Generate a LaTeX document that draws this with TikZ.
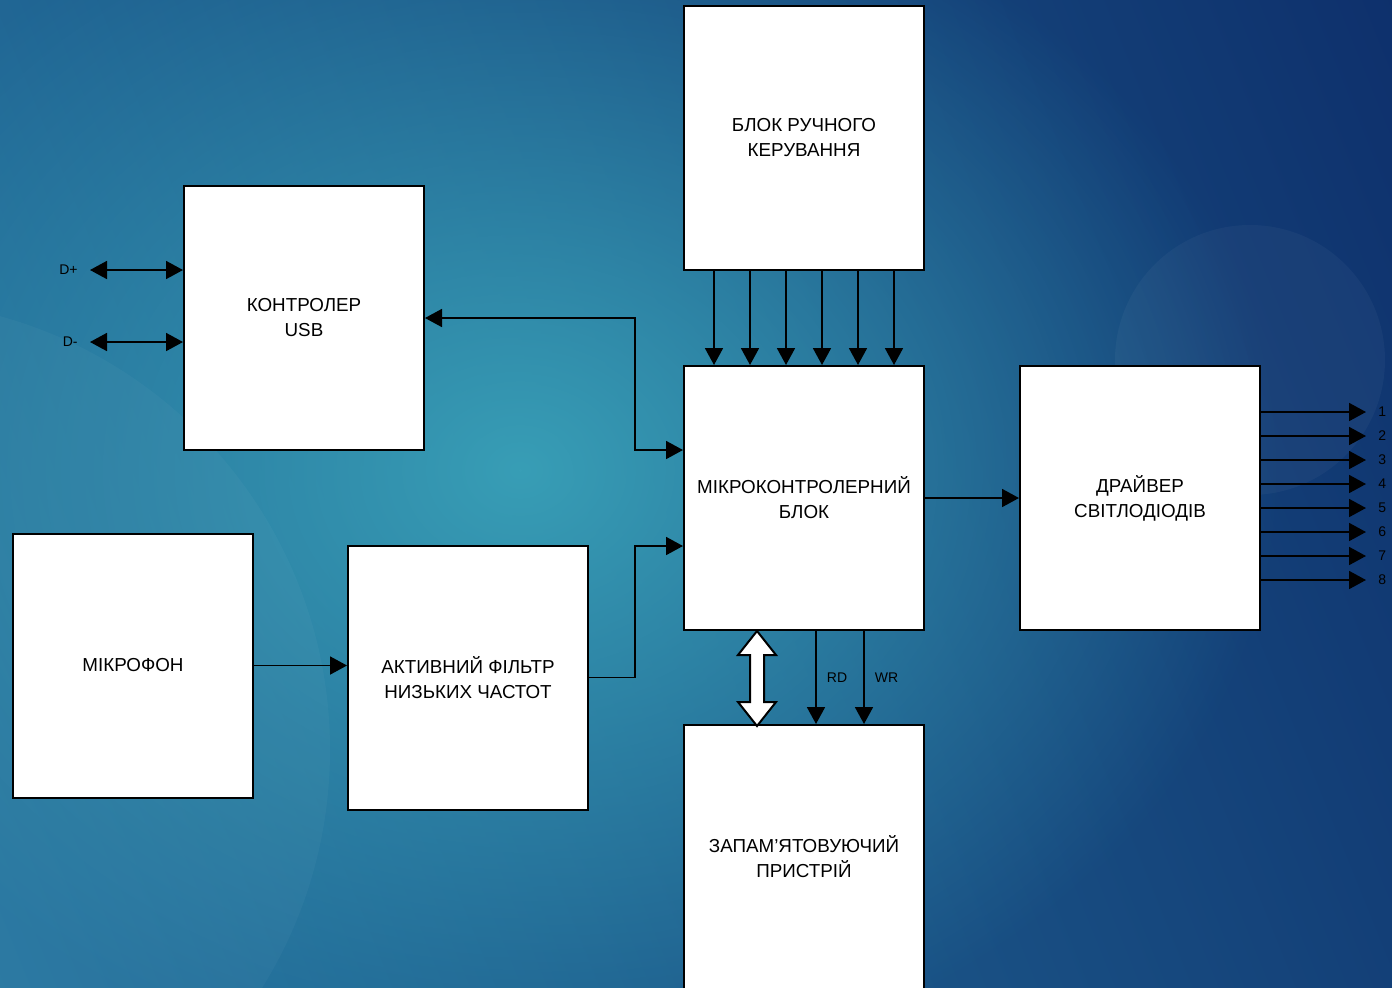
\documentclass[tikz,border=0pt]{standalone}
\usepackage{fontspec}
\setmainfont{Liberation Sans}
\usetikzlibrary{arrows.meta,calc,fadings}
\definecolor{bgleft}{RGB}{38,118,160}
\definecolor{bgright}{RGB}{14,48,108}
\definecolor{bglight}{RGB}{56,158,182}
\tikzfading[name=spotfade, inner color=transparent!0, outer color=transparent!100]
\tikzset{
  blok/.style={draw, fill=white, line width=1pt, minimum width=120pt, minimum height=132pt,
    align=center, font=\fontsize{9.4}{12.5}\selectfont},
  sig/.style={line width=0.9pt, -{Triangle[length=8.5pt,width=9pt]}},
  sigboth/.style={line width=0.9pt, {Triangle[length=8.5pt,width=9pt]}-{Triangle[length=8.5pt,width=9pt]}},
  bus/.style={draw, fill=white, line width=1pt, line join=miter},
  lbl/.style={font=\fontsize{7}{8}\selectfont, inner sep=1pt}
}
\begin{document}
\begin{tikzpicture}[x=0.5pt,y=-0.5pt]
  \useasboundingbox (0,0) rectangle (1392,987);
  \begin{scope}
    \clip (0,0) rectangle (1392,987);
    \shade[left color=bgleft, right color=bgright, shading angle=112] (-200,-200) rectangle (1592,1187);
    \fill[bglight, path fading=spotfade] (520,470) ellipse (760 and 620);
    \fill[white, opacity=0.035] (1250,360) circle (135);
    \fill[white, opacity=0.03] (-120,750) circle (450);
  \end{scope}
  \begin{scope}
    \clip (0,0) rectangle (1392,987);
    \node[blok] (ruch) at (804,138) {БЛОК РУЧНОГО\\КЕРУВАННЯ};
    \node[blok] (usb) at (304,318) {КОНТРОЛЕР\\USB};
    \node[blok] (mk) at (804,498) {МІКРОКОНТРОЛЕРНИЙ\\БЛОК};
    \node[blok] (drv) at (1140,498) {ДРАЙВЕР\\СВІТЛОДІОДІВ};
    \node[blok] (mic) at (133,665.5) {МІКРОФОН};
    \node[blok] (flt) at (468,677.5) {АКТИВНИЙ ФІЛЬТР\\НИЗЬКИХ ЧАСТОТ};
    \node[blok] (mem) at (804,857) {ЗАПАМ’ЯТОВУЮЧИЙ\\ПРИСТРІЙ};
  \end{scope}
  \coordinate (dp) at (90,270);
  \coordinate (dm) at (90,342);
  \draw[sigboth] (dp) -- (usb.west |- dp);
  \draw[sigboth] (dm) -- (usb.west |- dm);
  \node[lbl, anchor=east] (ldp) at ($(dp)+(-10,0)$) {D+};
  \node[lbl, anchor=east] (ldm) at ($(dm)+(-10,0)$) {D-};
  \draw[sigboth] (usb.east) -| ($(mk.west)+(-48,-48)$) -- ($(mk.west)+(0,-48)$);
  \draw[sig] (flt.east) -| ($(mk.west)+(-48,48)$) -- ($(mk.west)+(0,48)$);
  \draw[sig] (mic.east) -- (mic.east -| flt.west);
  \draw[sig] (mk.east) -- (drv.west);
  \foreach \dx in {-90,-54,-18,18,54,90}
    \draw[sig] ($(ruch.south)+(\dx,0)$) -- ($(mk.north)+(\dx,0)$);
  \foreach \i in {1,...,8} {
    \coordinate (o\i) at (1366,388+24*\i);
    \draw[sig] (drv.east |- o\i) -- (o\i);
    \node[lbl, anchor=west] (n\i) at ($(o\i)+(10,0)$) {\i};
  }
  \coordinate (b1) at ($(mk.south)+(-47,0)$);
  \draw[bus] (b1) -- ++(19,24) -- ++(-12,0) -- ++(0,47) -- ++(12,0) -- ++(-19,24)
    -- ++(-19,-24) -- ++(12,0) -- ++(0,-47) -- ++(-12,0) -- cycle;
  \draw[sig] ($(mk.south)+(12,0)$) -- ($(mem.north)+(12,0)$) node[lbl, midway, right=4pt] (rd) {RD};
  \draw[sig] ($(mk.south)+(60,0)$) -- ($(mem.north)+(60,0)$) node[lbl, midway, right=4pt] (wr) {WR};
\end{tikzpicture}
\end{document}
